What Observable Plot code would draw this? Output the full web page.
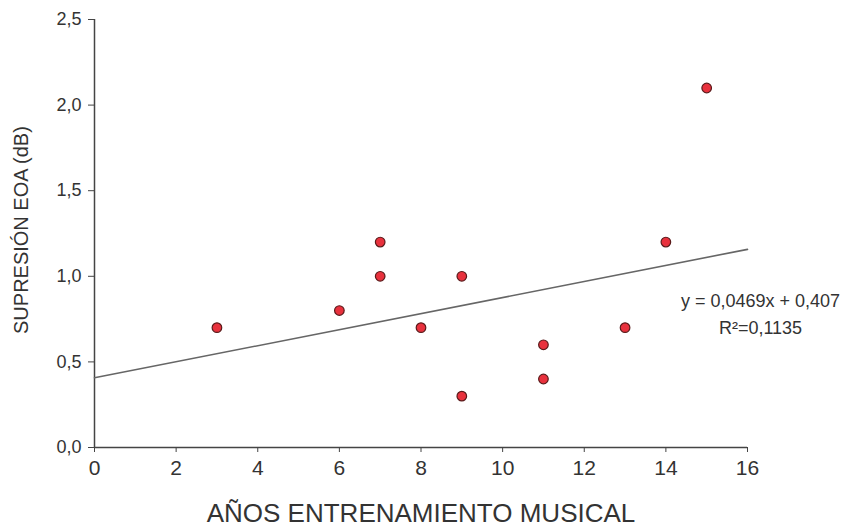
<!DOCTYPE html>
<html>
<head>
<meta charset="utf-8">
<script src="https://cdn.jsdelivr.net/npm/d3@7"></script>
<script src="https://cdn.jsdelivr.net/npm/@observablehq/plot@0.6"></script>
<style>
  html, body { margin: 0; padding: 0; background: #fff; }
  #chart svg { display: block; }
</style>
</head>
<body>
<div id="chart"></div>
<script>
// Years of musical training vs. EOA suppression (dB)
const years = [3, 6, 7, 7, 8, 9, 9, 11, 11, 13, 14, 15];
const suppression = [0.7, 0.8, 1.2, 1.0, 0.7, 1.0, 0.3, 0.6, 0.4, 0.7, 1.2, 2.1];

// Linear fit as reported on the chart
const slope = 0.0469;
const intercept = 0.407;
const r2 = 0.1135;
const fitRange = [0, 16];

const xTicks = [0, 2, 4, 6, 8, 10, 12, 14, 16];
const yTicks = [0, 0.5, 1.0, 1.5, 2.0, 2.5];

const comma = (v, digits) => v.toFixed(digits).replace(".", ",");

const points = years.map((x, i) => ({x, y: suppression[i]}));
const fit = fitRange.map(x => ({x, y: slope * x + intercept}));
const eqLabel = `y = ${comma(slope, 4)}x + ${comma(intercept, 3)}\nR²=${comma(r2, 4)}`;

const axisColor = "#444";
const textColor = "#333";

const chart = Plot.plot({
  width: 846,
  height: 529,
  marginLeft: 94,
  marginRight: 99,
  marginTop: 19,
  marginBottom: 82,
  style: {fontFamily: "Liberation Sans, Arial, sans-serif", color: textColor, background: "#fff"},
  x: {domain: [0, 16], ticks: xTicks, label: null},
  y: {domain: [0, 2.5], ticks: yTicks, label: null},
  marks: [
    // axis lines
    Plot.ruleX([0], {stroke: axisColor, strokeWidth: 1.5}),
    Plot.ruleY([0], {stroke: axisColor, strokeWidth: 1.5}),
    // tick marks (labels drawn separately below for larger type)
    Plot.axisX({ticks: xTicks, tickFormat: () => "", tickSize: 5, stroke: axisColor, label: null}),
    Plot.axisY({ticks: yTicks, tickFormat: () => "", tickSize: 6, stroke: axisColor, label: null}),
    Plot.text(xTicks, {x: d => d, y: 0, dy: 21, text: d => String(d), fontSize: 21, fill: textColor}),
    Plot.text(yTicks, {x: 0, y: d => d, dx: -13, text: d => comma(d, 1), textAnchor: "end", fontSize: 18, fill: textColor}),
    // fitted line and observations
    Plot.line(fit, {x: "x", y: "y", stroke: "#666", strokeWidth: 1.6}),
    Plot.dot(points, {x: "x", y: "y", r: 4.8, fill: "#e8313d", stroke: "#5a1a1a", strokeWidth: 1.2}),
    // equation of the fit
    Plot.text([eqLabel], {x: 16, y: 0.794, dx: 13, text: d => d, textAnchor: "middle", lineAnchor: "middle", lineHeight: 1.55, fontSize: 18, fill: textColor}),
    // axis titles
    Plot.text(["AÑOS ENTRENAMIENTO MUSICAL"], {x: 8.0, y: 0, dy: 66, text: d => d, fontSize: 26, fill: textColor}),
    Plot.text(["SUPRESIÓN EOA (dB)"], {x: 0, y: 1.27, dx: -73, text: d => d, rotate: -90, fontSize: 20, fill: textColor})
  ]
});

document.getElementById("chart").appendChild(chart);
</script>
</body>
</html>
